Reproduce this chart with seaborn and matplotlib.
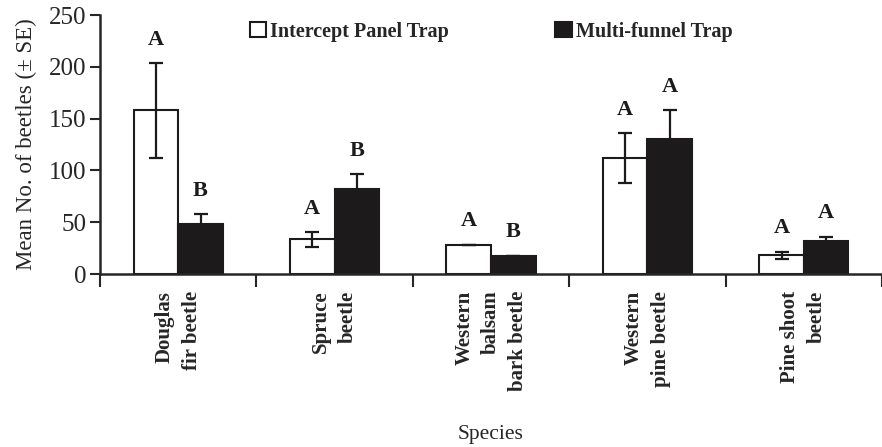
import numpy as np
import pandas as pd
import matplotlib
matplotlib.use('Agg')
import matplotlib.pyplot as plt
import seaborn as sns

species = ['Douglas\nfir beetle', 'Spruce\nbeetle', 'Western\nbalsam\nbark beetle',
           'Western\npine beetle', 'Pine shoot\nbeetle']
traps = ['Intercept Panel Trap', 'Multi-funnel Trap']

panel_mean = [158, 33.5, 28.5, 112, 18]
panel_se = [45.5, 7, 0, 24, 3.5]
funnel_mean = [48, 82, 17.5, 130, 32]
funnel_se = [10, 14.5, 0, 28, 4]

panel_letters = ['A', 'A', 'A', 'A', 'A']
funnel_letters = ['B', 'B', 'B', 'A', 'A']

df = pd.DataFrame({
    'Species': species * 2,
    'Trap': [traps[0]] * len(species) + [traps[1]] * len(species),
    'Mean': panel_mean + funnel_mean,
})

sns.set_style('ticks')
plt.rcParams['font.family'] = ['Liberation Serif', 'DejaVu Serif']
plt.rcParams['axes.linewidth'] = 1.8

fig = plt.figure(figsize=(8.82, 4.47), dpi=100)
ax = fig.add_axes([0.1134, 0.387, 0.8866, 0.579])

sns.barplot(data=df, x='Species', y='Mean', hue='Trap', hue_order=traps,
            palette=['white', '#1c1a1a'], width=0.57, gap=0, errorbar=None,
            edgecolor='#1c1a1a', linewidth=1.5, ax=ax)

for cont, se, letters in zip(ax.containers, [panel_se, funnel_se],
                             [panel_letters, funnel_letters]):
    xs = [p.get_x() + p.get_width() / 2 for p in cont]
    ys = [p.get_height() for p in cont]
    ax.errorbar(xs, ys, yerr=se, fmt='none', ecolor='#1c1a1a',
                elinewidth=1.6, capsize=5, capthick=1.6, zorder=3)
    for x, y, s, lab in zip(xs, ys, se, letters):
        ax.text(x, y + s + 13, lab, ha='center', va='bottom',
                fontsize=16, fontweight='bold', color='#1c1a1a')

ax.set_ylim(0, 250)
ax.set_xlim(-0.5, 4.42)
ax.set_yticks(np.arange(0, 251, 50))
ax.tick_params(axis='y', labelsize=18, length=7, width=1.5, direction='out', pad=3)

ax.set_xticks(np.arange(-0.5, 5, 1.0))
ax.set_xticklabels([])
ax.tick_params(axis='x', which='major', length=9, width=1.5, direction='out')
ax.set_xticks(np.arange(len(species)), minor=True)
ax.set_xticklabels(species, minor=True, rotation=90, fontsize=15,
                   fontweight='bold', multialignment='right', va='top',
                   linespacing=1.45)
ax.tick_params(axis='x', which='minor', length=0, pad=12)

sns.despine(ax=ax, right=True, top=True)

ax.set_ylabel('Mean No. of beetles (± SE)', fontsize=16.5, labelpad=8)
ax.set_xlabel('Species', fontsize=15.5, va='center')
ax.xaxis.set_label_coords(0.5, -0.62)

leg = ax.legend(loc='upper center', bbox_to_anchor=(0.5, 1.045), ncol=2,
                frameon=False, fontsize=14.5, handlelength=0.8, handleheight=0.8,
                handletextpad=0.2, columnspacing=5.3)
for t in leg.get_texts():
    t.set_fontweight('bold')

fig.savefig('out.png', dpi=100)
